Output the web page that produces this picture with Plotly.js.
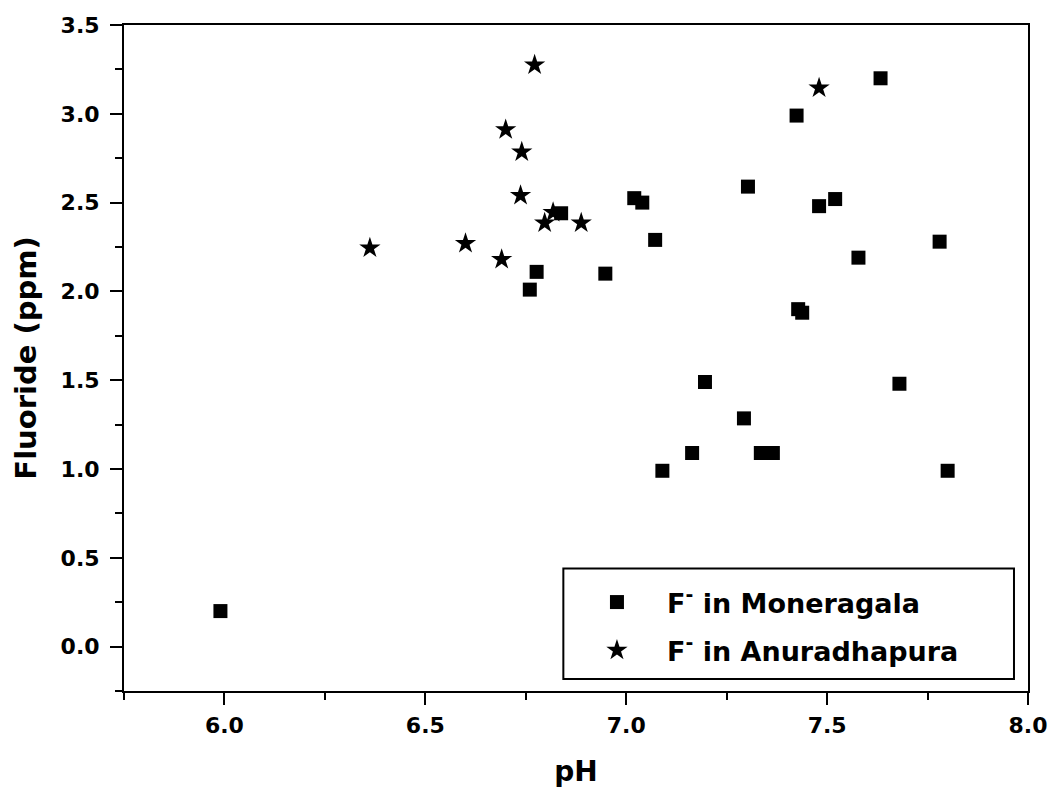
<!DOCTYPE html>
<html>
<head>
<meta charset="utf-8">
<script src="https://cdn.plot.ly/plotly-3.0.1.min.js"></script>
<style>
  html, body { margin: 0; padding: 0; background: #fff; }
  #chart { width: 1055px; height: 796px; }
</style>
</head>
<body>
<div id="chart"></div>
<script>
// Fluoride concentration vs. pH of groundwater samples, two districts
const moneragalaPH = [5.99, 6.777, 6.76, 6.838, 6.948, 7.02, 7.04, 7.072, 7.633, 7.424,
                      7.303, 7.48, 7.52, 7.78, 7.578, 7.428, 7.438, 7.196, 7.293, 7.335,
                      7.365, 7.68, 7.80, 7.164, 7.09];
const moneragalaF  = [0.20, 2.11, 2.01, 2.44, 2.10, 2.525, 2.50, 2.29, 3.20, 2.99,
                      2.59, 2.48, 2.52, 2.28, 2.19, 1.90, 1.88, 1.49, 1.285, 1.09,
                      1.09, 1.48, 0.99, 1.09, 0.99];

const anuradhapuraPH = [6.772, 6.70, 6.74, 6.737, 6.818, 6.797, 6.888, 6.362, 6.60, 6.69, 7.48];
const anuradhapuraF  = [3.275, 2.91, 2.785, 2.54, 2.445, 2.385, 2.385, 2.245, 2.27, 2.18, 3.145];

const seriesNames = ['F<sup>-</sup> in Moneragala', 'F<sup>-</sup> in Anuradhapura'];

const xTicks = [6.0, 6.5, 7.0, 7.5, 8.0];
const xTickText = ['6.0', '6.5', '7.0', '7.5', '8.0'];
const yTicks = [0.0, 0.5, 1.0, 1.5, 2.0, 2.5, 3.0, 3.5];
const yTickText = ['0.0', '0.5', '1.0', '1.5', '2.0', '2.5', '3.0', '3.5'];

const FONT = '"DejaVu Sans", Verdana, sans-serif';

const traces = [
  {
    x: moneragalaPH, y: moneragalaF, name: seriesNames[0], legendgroup: 'm',
    type: 'scatter', mode: 'markers',
    marker: { symbol: 'square', size: 14, color: '#000' }
  },
  {
    x: anuradhapuraPH, y: anuradhapuraF, name: seriesNames[1], legendgroup: 'a',
    type: 'scatter', mode: 'markers',
    marker: { symbol: 'star', size: 16, color: '#000' }
  }
];

const axisCommon = {
  showline: true, linecolor: '#000', linewidth: 2, mirror: true,
  showgrid: false, zeroline: false,
  ticks: 'outside', ticklen: 12, tickwidth: 2, tickcolor: '#000',
  tickfont: { family: FONT, size: 22, color: '#000', weight: 'bold' }
};

const layout = {
  width: 1055, height: 796,
  margin: { l: 124, r: 27, t: 25, b: 105 },
  paper_bgcolor: '#fff', plot_bgcolor: '#fff',
  showlegend: true,
  xaxis: Object.assign({}, axisCommon, {
    range: [5.75, 8.0],
    ticklabelstandoff: 2,
    tickmode: 'array', tickvals: xTicks, ticktext: xTickText,
    minor: { ticks: 'outside', dtick: 0.25, tick0: 5.75, ticklen: 7, tickwidth: 2, tickcolor: '#000' },
    title: { text: '<b>pH</b>', font: { family: FONT, size: 28, color: '#000' }, standoff: 24 }
  }),
  yaxis: Object.assign({}, axisCommon, {
    range: [-0.25, 3.5],
    ticklabelstandoff: 6,
    tickmode: 'array', tickvals: yTicks, ticktext: yTickText,
    minor: { ticks: 'outside', dtick: 0.25, tick0: -0.25, ticklen: 7, tickwidth: 2, tickcolor: '#000' },
    title: { text: '<b>Fluoride (ppm)</b>', font: { family: FONT, size: 29, color: '#000' }, standoff: 15 }
  }),
  legend: {
    x: 0.49, y: 0.024, xanchor: 'left', yanchor: 'bottom',
    bgcolor: 'rgba(0,0,0,0)', borderwidth: 0,
    itemwidth: 90, traceorder: 'grouped', tracegroupgap: 10,
    font: { family: FONT, size: 27, color: '#000', weight: 'bold' }
  },
  shapes: [{
    type: 'rect', xref: 'paper', yref: 'paper',
    x0: 0.486, x1: 0.9845, y0: 0.018, y1: 0.184,
    line: { color: '#000', width: 2 }, fillcolor: 'rgba(0,0,0,0)'
  }]
};

Plotly.newPlot('chart', traces, layout, { staticPlot: true });
</script>
</body>
</html>
